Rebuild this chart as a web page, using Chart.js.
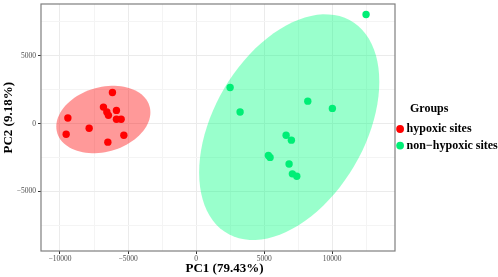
<!DOCTYPE html>
<html>
<head>
<meta charset="utf-8">
<script src="https://cdn.jsdelivr.net/npm/chart.js@4/dist/chart.umd.min.js"></script>
<style>
  html, body { margin: 0; padding: 0; background: #ffffff; }
  #wrap { width: 498px; height: 277px; }
</style>
</head>
<body>
<div id="wrap"><canvas id="myChart" width="498" height="277"></canvas></div>
<script>
// groups
var groups = ['hypoxic sites', 'non\u2212hypoxic sites'];
// PC scores
var hypoxicPC1 = [-6147, -6808, -5853, -6558, -6441, -5853, -5508, -9422, -7858, -9547, -5310, -6485];
var hypoxicPC2 = [2297, 1222, 980, 856, 614, 322, 322, 417, -336, -775, -849, -1361];
var normalPC1 = [12485, 2497, 3231, 8203, 10010, 6610, 6999, 5310, 5435, 6830, 7072, 7395];
var normalPC2 = [8047, 2663, 856, 1661, 1127, -849, -1214, -2341, -2487, -2970, -3701, -3877];
// axis ranges, grid lines and labelled ticks
var xRange = [-11395, 14611];
var yRange = [-9390, 8826];
var xGrid = [-10000, -7500, -5000, -2500, 0, 2500, 5000, 7500, 10000, 12500];
var yGrid = [-7500, -5000, -2500, 0, 2500, 5000, 7500];
var labelledTicks = [-10000, -5000, 0, 5000, 10000];

var pointColors = ['#FF0000', '#00EE76'];
var fillColors = ['rgba(255,0,0,0.4)', 'rgba(0,255,127,0.4)'];

function toPoints(xs, ys) {
  return xs.map(function (x, i) { return { x: x, y: ys[i] }; });
}

// 95% normal data ellipse (mean, sample covariance, chi-square radius)
function ellipsePath(xs, ys) {
  var n = xs.length;
  var mx = xs.reduce(function (s, v) { return s + v; }, 0) / n;
  var my = ys.reduce(function (s, v) { return s + v; }, 0) / n;
  var a = 0, b = 0, c = 0;
  for (var i = 0; i < n; i++) {
    a += (xs[i] - mx) * (xs[i] - mx);
    b += (xs[i] - mx) * (ys[i] - my);
    c += (ys[i] - my) * (ys[i] - my);
  }
  a /= n - 1; b /= n - 1; c /= n - 1;
  var r = Math.sqrt(-2 * Math.log(0.05));
  var r11 = Math.sqrt(a);
  var r12 = b / r11;
  var r22 = Math.sqrt(c - r12 * r12);
  var out = [];
  for (var k = 0; k <= 90; k++) {
    var t = k * 2 * Math.PI / 90;
    out.push([mx + r * Math.cos(t) * r11,
              my + r * (Math.cos(t) * r12 + Math.sin(t) * r22)]);
  }
  return out;
}

var ellipses = [ellipsePath(hypoxicPC1, hypoxicPC2), ellipsePath(normalPC1, normalPC2)];

var ellipsePlugin = {
  id: 'ellipses',
  beforeDatasetsDraw: function (chart) {
    var ctx = chart.ctx, xs = chart.scales.x, ys = chart.scales.y, area = chart.chartArea;
    ctx.save();
    ctx.beginPath();
    ctx.rect(area.left, area.top, area.width, area.height);
    ctx.clip();
    ellipses.forEach(function (pts, g) {
      ctx.beginPath();
      pts.forEach(function (pt, i) {
        var px = xs.getPixelForValue(pt[0]), py = ys.getPixelForValue(pt[1]);
        if (i === 0) ctx.moveTo(px, py); else ctx.lineTo(px, py);
      });
      ctx.closePath();
      ctx.fillStyle = fillColors[g];
      ctx.fill();
    });
    ctx.restore();
  },
  afterDatasetsDraw: function (chart) {
    var ctx = chart.ctx, area = chart.chartArea;
    ctx.save();
    ctx.strokeStyle = '#7F7F7F';
    ctx.lineWidth = 1.2;
    ctx.strokeRect(area.left, area.top, area.width, area.height);
    ctx.restore();
  }
};

function isLabelled(v) { return labelledTicks.indexOf(v) >= 0; }
function fmt(v) { return isLabelled(v) ? String(v).replace('-', '\u2212') : ''; }
function setTicks(list) {
  return function (s) { s.ticks = list.map(function (v) { return { value: v }; }); };
}

var tickFont = { family: 'Liberation Serif', size: 7.5 };
var titleFont = { family: 'Liberation Serif', size: 13, weight: 'bold' };
var gridOpts = {
  color: function (c) { return c.tick && isLabelled(c.tick.value) ? '#EBEBEB' : '#F4F4F4'; },
  tickColor: function (c) { return c.tick && isLabelled(c.tick.value) ? '#333333' : 'rgba(0,0,0,0)'; },
  tickLength: 3,
  lineWidth: 1
};

var ctx = document.getElementById('myChart').getContext('2d');
var myChart = new Chart(ctx, {
  type: 'scatter',
  data: {
    datasets: [{
      label: groups[0],
      data: toPoints(hypoxicPC1, hypoxicPC2),
      backgroundColor: pointColors[0],
      borderWidth: 0,
      pointRadius: 3.7,
      pointStyle: 'circle'
    }, {
      label: groups[1],
      data: toPoints(normalPC1, normalPC2),
      backgroundColor: pointColors[1],
      borderWidth: 0,
      pointRadius: 3.7,
      pointStyle: 'circle'
    }]
  },
  options: {
    responsive: false,
    animation: false,
    layout: { padding: { top: 2, left: 0, right: 0, bottom: 0 } },
    plugins: {
      tooltip: { enabled: false },
      legend: {
        position: 'right',
        align: 'start',
        maxWidth: 103,
        title: {
          display: true,
          text: '     Groups',
          position: 'start',
          color: '#000000',
          font: { family: 'Liberation Serif', size: 12, weight: 'bold' },
          padding: { top: 101, bottom: 1 }
        },
        labels: {
          usePointStyle: true,
          boxWidth: 1,
          boxHeight: 5.5,
          padding: 4.6,
          color: '#000000',
          font: { family: 'Liberation Serif', size: 12, weight: 'bold' }
        }
      }
    },
    scales: {
      x: {
        type: 'linear',
        min: xRange[0],
        max: xRange[1],
        afterBuildTicks: setTicks(xGrid),
        afterFit: function (s) { s.height = 26; s.paddingLeft = 0; s.paddingRight = 0; },
        border: { display: false },
        grid: gridOpts,
        ticks: {
          autoSkip: false,
          maxRotation: 0,
          padding: 1,
          color: '#4D4D4D',
          font: tickFont,
          callback: fmt
        },
        title: {
          display: true,
          text: '    PC1 (79.43%)',
          color: '#000000',
          font: titleFont,
          padding: { top: 0, bottom: 1 }
        }
      },
      y: {
        type: 'linear',
        min: yRange[0],
        max: yRange[1],
        afterBuildTicks: setTicks(yGrid),
        afterFit: function (s) { s.width = 41; s.paddingTop = 0; s.paddingBottom = 0; },
        border: { display: false },
        grid: gridOpts,
        ticks: {
          autoSkip: false,
          padding: 2,
          color: '#4D4D4D',
          font: tickFont,
          callback: fmt
        },
        title: {
          display: true,
          text: '      PC2 (9.18%)',
          color: '#000000',
          font: titleFont,
          padding: { top: 1, bottom: 0 }
        }
      }
    }
  },
  plugins: [ellipsePlugin]
});
</script>
</body>
</html>
